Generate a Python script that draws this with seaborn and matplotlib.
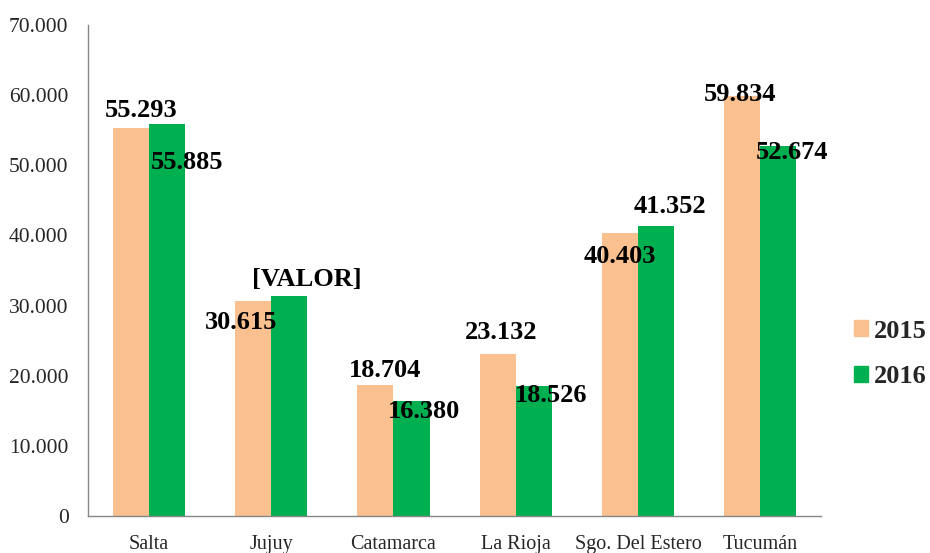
import matplotlib
matplotlib.use("Agg")
import matplotlib.pyplot as plt
import matplotlib.ticker as mticker
import pandas as pd
import seaborn as sns

# data
provincias = ["Salta", "Jujuy", "Catamarca", "La Rioja", "Sgo. Del Estero", "Tucumán"]
anios = ["2015", "2016"]
v2015 = [55293, 30615, 18704, 23132, 40403, 59834]
v2016 = [55885, 31300, 16380, 18526, 41352, 52674]
etiquetas_2016_custom = {1: "[VALOR]"}

colores = {"2015": "#FAC090", "2016": "#00B050"}

# label offsets in pixels (dx, dy) from bar top centre, to mimic the excel layout
offsets = {
    "2015": [(10, 18), (-12, -21), (10, 14), (3, 21), (0, -24), (-2, 2)],
    "2016": [(20, -39), (18, 17), (12, -10), (17, -9), (14, 19), (14, -6)],
}

df = pd.DataFrame({
    "Provincia": provincias * 2,
    "Año": ["2015"] * len(provincias) + ["2016"] * len(provincias),
    "Valor": v2015 + v2016,
})

sns.set_style("white")
plt.rcParams["font.family"] = ["Liberation Serif", "DejaVu Serif"]

fig = plt.figure(figsize=(9.3, 5.53), dpi=100)
ax = fig.add_axes([0.0946, 0.0669, 0.7884, 0.888])

sns.barplot(data=df, x="Provincia", y="Valor", hue="Año", hue_order=anios,
            palette=colores, width=0.59, gap=0, saturation=1, ax=ax,
            edgecolor="none", linewidth=0, legend=True)

def fmt(v):
    return f"{v:,.0f}".replace(",", ".")

for cont, anio, vals in zip(ax.containers, anios, [v2015, v2016]):
    for i, bar in enumerate(cont):
        if anio == "2016" and i in etiquetas_2016_custom:
            txt = etiquetas_2016_custom[i]
        else:
            txt = fmt(vals[i])
        dx, dy = offsets[anio][i]
        ax.annotate(txt, (bar.get_x() + bar.get_width() / 2, bar.get_height()),
                    xytext=(dx, dy), textcoords="offset pixels",
                    ha="center", va="center", fontsize=19, fontweight="bold",
                    color="black")

ax.set_ylim(0, 70000)
ax.set_xlim(-0.5, len(provincias) - 0.5)
ax.yaxis.set_major_locator(mticker.MultipleLocator(10000))
ax.yaxis.set_major_formatter(mticker.FuncFormatter(lambda v, p: "0" if v == 0 else fmt(v)))
ax.set_xlabel("")
ax.set_ylabel("")

ax.xaxis.set_minor_locator(mticker.FixedLocator([i - 0.5 for i in range(len(provincias) + 1)]))
ax.tick_params(axis="x", which="major", length=0, pad=14, labelsize=14.5)
ax.tick_params(axis="x", which="minor", length=6, color="#868686", width=1, direction="out")
ax.tick_params(axis="y", which="major", length=5, color="#868686", width=1, direction="out",
               labelsize=15.5, pad=9)

for s in ["top", "right"]:
    ax.spines[s].set_visible(False)
for s in ["left", "bottom"]:
    ax.spines[s].set_color("#868686")
    ax.spines[s].set_linewidth(1)

ax.legend_.remove()
handles = [plt.Rectangle((0, 0), 1, 1, color=colores[a]) for a in anios]
fig.legend(handles, anios, loc="center left", bbox_to_anchor=(0.918, 0.36),
           frameon=False, prop={"weight": "bold", "size": 19},
           handlelength=0.55, handleheight=0.55, handletextpad=0.2, labelspacing=0.85,
           borderpad=0, borderaxespad=0)

fig.savefig("out.png", dpi=100)
